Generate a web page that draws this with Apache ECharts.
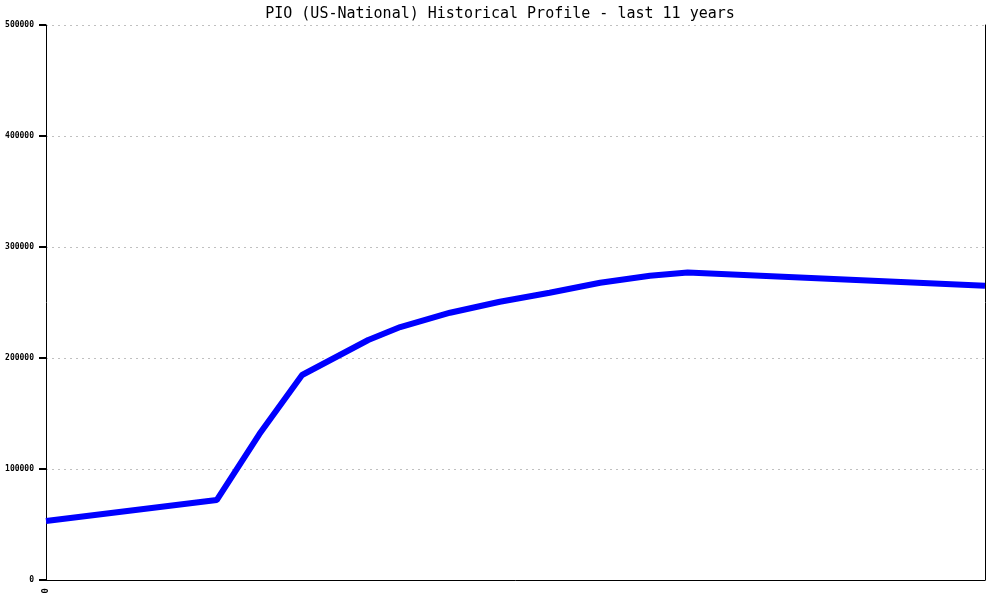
<!DOCTYPE html>
<html>
<head>
<meta charset="utf-8">
<script src="https://cdn.jsdelivr.net/npm/echarts@6/dist/echarts.min.js"></script>
<style>html,body{margin:0;padding:0;background:#fff}#c{width:1000px;height:600px}</style>
</head>
<body>
<div id="c"></div>
<script>
const titleText = 'PIO (US-National) Historical Profile - last 11 years';
const months = [0, 24, 30, 36, 45.3, 49.8, 56.8, 63.8, 70.8, 77.9, 84.9, 90.2, 132];
const values = [53100, 72000, 131500, 184700, 216200, 227900, 240800, 250700, 258800, 267800, 274100, 277000, 265100];
const yTicks = [0, 100000, 200000, 300000, 400000, 500000];
const xTickLabels = ['0'];

const chart = echarts.init(document.getElementById('c'), null, {renderer: 'canvas'});
const mono = 'DejaVu Sans Mono, monospace';
chart.setOption({
  animation: false,
  backgroundColor: '#fff',
  title: {
    text: titleText, left: 'center', top: 2,
    textStyle: {fontFamily: mono, fontSize: 15, fontWeight: 'normal', color: '#000'}
  },
  grid: {left: 46, right: 15, top: 25, bottom: 20},
  xAxis: {
    type: 'value', min: 0, max: 132, interval: 132,
    axisLine: {show: true, onZero: false, lineStyle: {color: '#000', width: 1}},
    axisTick: {show: false},
    splitLine: {show: false},
    axisLabel: {show: true, rotate: 90, showMaxLabel: false, fontFamily: mono, fontSize: 9, fontWeight: 'bold', color: '#000', margin: 8,
      formatter: v => v === 0 ? xTickLabels[0] : ''}
  },
  yAxis: [{
    type: 'value', position: 'left', min: yTicks[0], max: yTicks[yTicks.length - 1], interval: 100000,
    axisLine: {show: true, onZero: false, lineStyle: {color: '#000', width: 1}},
    axisTick: {show: true, inside: false, length: 7, lineStyle: {color: '#000', width: 2}},
    axisLabel: {fontFamily: mono, fontSize: 8, fontWeight: 'bold', color: '#000', margin: 12,
      formatter: v => String(v)},
    splitLine: {show: true, lineStyle: {color: '#c0c0c0', type: [2, 4], width: 1}}
  }, {
    type: 'value', position: 'right', min: 0, max: 500000, interval: 100000,
    axisLine: {show: true, onZero: false, lineStyle: {color: '#000', width: 1}},
    axisTick: {show: false}, axisLabel: {show: false}, splitLine: {show: false}
  }],
  series: [{
    type: 'line',
    yAxisIndex: 0,
    data: months.map((m, i) => [m, values[i]]),
    showSymbol: false,
    smooth: false,
    lineStyle: {color: '#0000ff', width: 6},
    itemStyle: {color: '#0000ff'}
  }]
});
</script>
</body>
</html>
